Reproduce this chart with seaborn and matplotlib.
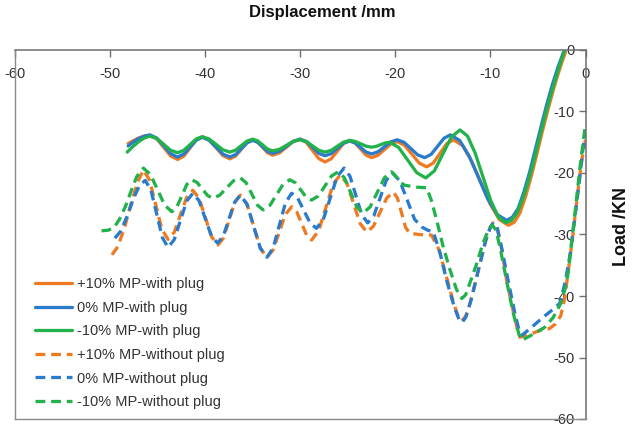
import matplotlib
matplotlib.use("Agg")
import matplotlib.pyplot as plt
import seaborn as sns
import pandas as pd

# ---- load-displacement curves (displacement in mm, load in kN) ----
series_names = [
    "+10% MP-with plug",
    "0% MP-with plug",
    "-10% MP-with plug",
    "+10% MP-without plug",
    "0% MP-without plug",
    "-10% MP-without plug",
]

plus10_plug_x = [-48.1, -47.5, -47.0, -46.4, -45.8, -45.08, -44.35, -43.63, -42.9, -42.25, -41.6, -40.95,
                 -40.3, -39.58, -38.85, -38.13, -37.4, -36.8, -36.2, -35.6, -35.0, -34.48, -33.95, -33.43,
                 -32.9, -32.18, -31.45, -30.73, -30.0, -29.35, -28.7, -28.05, -27.4, -26.75, -26.1, -25.45,
                 -24.8, -24.23, -23.65, -23.08, -22.5, -21.83, -21.15, -20.48, -19.8, -19.03, -18.25, -17.48,
                 -16.7, -16.0, -15.3, -14.6, -13.9, -12.93, -11.97, -11.0, -10.03, -9.07, -8.1, -7.5, -6.9,
                 -6.3, -5.7, -5.1, -4.5, -3.9, -3.3, -2.7, -2.1]
plus10_plug_y = [-15.2, -14.7, -14.3, -14.0, -13.9, -14.47, -15.85, -17.23, -17.8, -17.26, -15.95, -14.64,
                 -14.1, -14.63, -15.9, -17.17, -17.7, -17.25, -16.15, -15.05, -14.6, -14.97, -15.85, -16.73,
                 -17.1, -16.72, -15.8, -14.88, -14.5, -15.04, -16.35, -17.66, -18.2, -17.69, -16.45, -15.21,
                 -14.7, -15.11, -16.1, -17.09, -17.5, -17.12, -16.2, -15.28, -14.9, -15.5, -16.95, -18.4,
                 -19.0, -18.36, -16.8, -15.24, -14.6, -15.53, -18.08, -21.55, -25.03, -27.57, -28.5, -28.0,
                 -26.5, -23.8, -20.5, -16.8, -13.0, -9.4, -6.0, -3.0, -0.3]

zero_plug_x = [-48.1, -47.5, -47.0, -46.4, -45.8, -45.08, -44.35, -43.63, -42.9, -42.25, -41.6, -40.95,
               -40.3, -39.58, -38.85, -38.13, -37.4, -36.8, -36.2, -35.6, -35.0, -34.48, -33.95, -33.43,
               -32.9, -32.18, -31.45, -30.73, -30.0, -29.35, -28.7, -28.05, -27.4, -26.75, -26.1, -25.45,
               -24.8, -24.23, -23.65, -23.08, -22.5, -21.83, -21.15, -20.48, -19.8, -19.08, -18.35, -17.63,
               -16.9, -16.23, -15.55, -14.88, -14.2, -13.22, -12.23, -11.25, -10.27, -9.28, -8.3, -7.7, -7.1,
               -6.5, -5.9, -5.3, -4.7, -4.1, -3.5, -2.9, -2.3]
zero_plug_y = [-15.6, -14.9, -14.4, -14.0, -13.8, -14.33, -15.6, -16.87, -17.4, -16.93, -15.8, -14.67,
               -14.2, -14.67, -15.8, -16.93, -17.4, -17.01, -16.05, -15.09, -14.7, -15.01, -15.75, -16.49,
               -16.8, -16.46, -15.65, -14.84, -14.5, -14.89, -15.85, -16.81, -17.2, -16.85, -16.0, -15.15,
               -14.8, -15.11, -15.85, -16.59, -16.9, -16.56, -15.75, -14.94, -14.6, -15.02, -16.05, -17.08,
               -17.5, -16.96, -15.65, -14.34, -13.8, -14.73, -17.28, -20.75, -24.23, -26.77, -27.7, -27.2,
               -25.8, -23.2, -20.0, -16.3, -12.6, -9.0, -5.7, -2.8, -0.3]

minus10_plug_x = [-48.2, -47.6, -47.0, -46.4, -45.8, -45.08, -44.35, -43.63, -42.9, -42.25, -41.6, -40.95,
                  -40.3, -39.58, -38.85, -38.13, -37.4, -36.8, -36.2, -35.6, -35.0, -34.48, -33.95, -33.43,
                  -32.9, -32.18, -31.45, -30.73, -30.0, -29.35, -28.7, -28.05, -27.4, -26.75, -26.1, -25.45,
                  -24.8, -24.23, -23.65, -23.08, -22.5, -22.03, -21.55, -21.08, -20.6, -19.65, -18.7, -17.75,
                  -16.8, -15.9, -15.0, -14.1, -13.2, -12.4, -11.6, -10.8, -10.0, -9.2, -8.4, -7.8, -7.2,
                  -6.6, -6.0, -5.4, -4.8, -4.2, -3.6, -2.9, -2.2]
minus10_plug_y = [-16.6, -15.7, -14.9, -14.3, -14.0, -14.39, -15.35, -16.31, -16.7, -16.32, -15.4, -14.48,
                  -14.1, -14.47, -15.35, -16.23, -16.6, -16.29, -15.55, -14.81, -14.5, -14.78, -15.45, -16.12,
                  -16.4, -16.14, -15.5, -14.86, -14.6, -14.89, -15.6, -16.31, -16.6, -16.32, -15.65, -14.98,
                  -14.7, -14.86, -15.25, -15.64, -15.8, -15.68, -15.4, -15.12, -15.0, -15.85, -17.9, -19.95,
                  -20.8, -19.66, -16.9, -14.14, -13.0, -14.01, -16.78, -20.55, -24.33, -27.09, -28.1, -27.7,
                  -26.5, -24.2, -21.3, -17.8, -14.0, -10.4, -7.0, -3.4, 0.0]

plus10_noplug_x = [-49.8, -49.2, -48.5, -47.8, -47.1, -46.5, -45.85, -45.2, -44.55, -43.9, -43.25, -42.6,
                   -41.95, -41.3, -40.64, -39.98, -39.31, -38.65, -38.06, -37.48, -36.89, -36.3, -35.6, -34.9,
                   -34.2, -33.5, -32.85, -32.2, -31.55, -30.9, -30.38, -29.85, -29.33, -28.8, -28.05, -27.3,
                   -26.55, -25.8, -25.1, -24.4, -23.7, -23.0, -22.3, -21.6, -20.9, -20.2, -19.78, -19.35,
                   -18.93, -18.5, -17.5, -16.2, -15.4, -14.6, -13.8, -13.4, -13.0, -12.6, -12.2, -11.3, -10.5,
                   -10.0, -9.7, -9.3, -8.8, -8.3, -7.6, -7.1, -6.9, -5.8, -4.8, -3.8, -3.2, -2.6, -2.2, -1.8,
                   -1.3, -0.8, -0.4, 0.0]
plus10_noplug_y = [-33.3, -32.0, -29.0, -25.0, -21.5, -19.5, -21.15, -25.15, -29.15, -30.8, -29.63, -26.8,
                   -23.97, -22.8, -24.1, -27.25, -30.4, -31.7, -30.52, -27.65, -24.78, -23.6, -25.07, -28.65,
                   -32.23, -33.7, -32.5, -29.6, -26.7, -25.5, -26.29, -28.2, -30.11, -30.9, -29.35, -25.6,
                   -21.85, -20.3, -21.66, -24.95, -28.24, -29.6, -28.65, -26.35, -24.05, -23.1, -24.08, -26.45,
                   -28.82, -29.8, -30.0, -30.1, -32.5, -37.0, -41.5, -43.3, -44.0, -43.3, -41.5, -36.0, -31.0,
                   -28.8, -28.1, -28.8, -32.5, -37.4, -42.5, -45.8, -46.7, -46.2, -45.6, -45.3, -44.6, -43.2,
                   -40.5, -35.8, -29.8, -23.0, -18.0, -14.6]

zero_noplug_x = [-49.5, -48.9, -48.2, -47.5, -46.9, -46.3, -45.7, -45.1, -44.5, -43.9, -43.25, -42.6,
                 -41.95, -41.3, -40.65, -40.0, -39.35, -38.7, -38.1, -37.5, -36.9, -36.3, -35.6, -34.9,
                 -34.2, -33.5, -32.85, -32.2, -31.55, -30.9, -30.25, -29.6, -28.95, -28.3, -27.58, -26.85,
                 -26.13, -25.4, -24.78, -24.15, -23.53, -22.9, -22.25, -21.6, -20.95, -20.3, -19.53, -18.75,
                 -17.98, -17.2, -16.6, -16.0, -15.3, -14.6, -13.8, -13.3, -13.0, -12.6, -12.0, -11.3, -10.5,
                 -10.0, -9.7, -9.3, -8.8, -8.2, -7.5, -7.0, -6.7, -5.6, -4.5, -3.6, -2.7, -2.1, -1.6, -1.1,
                 -0.7, -0.3, 0.0]
zero_noplug_y = [-30.6, -29.5, -27.0, -24.0, -22.0, -21.2, -22.79, -26.65, -30.51, -32.1, -30.82, -27.7,
                 -24.58, -23.3, -24.48, -27.35, -30.22, -31.4, -30.26, -27.5, -24.74, -23.6, -25.07, -28.65,
                 -32.23, -33.7, -32.18, -28.5, -24.82, -23.3, -24.13, -26.15, -28.17, -29.0, -27.57, -24.1,
                 -20.63, -19.2, -20.5, -23.65, -26.8, -28.1, -26.92, -24.05, -21.18, -20.0, -21.28, -24.4,
                 -27.52, -28.8, -29.3, -29.6, -33.0, -37.5, -41.8, -43.8, -44.3, -43.5, -40.5, -36.0, -31.0,
                 -28.8, -28.1, -28.8, -32.3, -37.0, -42.3, -45.5, -46.4, -45.0, -43.5, -42.4, -41.2, -37.5,
                 -33.0, -27.0, -22.0, -16.5, -13.0]

minus10_noplug_x = [-50.9, -50.2, -49.6, -49.0, -48.4, -47.8, -47.2, -46.5, -45.75, -45.0, -44.25, -43.5,
                    -42.98, -42.45, -41.93, -41.4, -40.85, -40.3, -39.75, -39.2, -38.48, -37.75, -37.03, -36.3,
                    -35.7, -35.1, -34.5, -33.9, -33.2, -32.5, -31.8, -31.1, -30.53, -29.95, -29.38, -28.8,
                    -28.1, -27.4, -26.7, -26.0, -25.35, -24.7, -24.05, -23.4, -22.65, -21.9, -21.15, -20.4,
                    -19.9, -19.4, -19.0, -17.8, -16.7, -16.2, -15.6, -15.0, -14.3, -13.6, -13.2, -13.0, -12.6,
                    -12.0, -11.5, -10.8, -10.2, -9.8, -9.4, -8.9, -8.3, -7.6, -7.0, -6.7, -5.5, -4.3, -3.4,
                    -2.6, -2.1, -1.8, -1.4, -1.0, -0.5, 0.0]
minus10_noplug_y = [-29.4, -29.3, -28.9, -27.5, -25.5, -23.0, -20.6, -19.2, -20.24, -22.75, -25.26, -26.3,
                    -25.54, -23.7, -21.86, -21.1, -21.54, -22.6, -23.66, -24.1, -23.62, -22.45, -21.28, -20.8,
                    -21.56, -23.4, -25.24, -26.0, -25.28, -23.55, -21.82, -21.1, -21.58, -22.75, -23.92, -24.4,
                    -23.73, -22.1, -20.47, -19.8, -20.78, -23.15, -25.52, -26.5, -25.52, -23.15, -20.78, -19.8,
                    -20.6, -21.6, -22.0, -22.3, -22.4, -24.5, -28.0, -31.8, -35.5, -38.8, -40.1, -40.4, -39.8,
                    -37.2, -35.0, -31.5, -29.2, -28.5, -29.3, -32.8, -37.5, -42.8, -46.2, -47.2, -46.2, -45.1,
                    -43.5, -41.2, -38.6, -36.0, -30.5, -25.0, -18.0, -12.0]

curves = [
    (plus10_plug_x, plus10_plug_y),
    (zero_plug_x, zero_plug_y),
    (minus10_plug_x, minus10_plug_y),
    (plus10_noplug_x, plus10_noplug_y),
    (zero_noplug_x, zero_noplug_y),
    (minus10_noplug_x, minus10_noplug_y),
]

x_ticks = [-60, -50, -40, -30, -20, -10, 0]
y_ticks = [0, -10, -20, -30, -40, -50, -60]

# long-form table for seaborn
frames = []
for name, (xs, ys) in zip(series_names, curves):
    frames.append(pd.DataFrame({"disp": xs, "load": ys, "series": name}))
df = pd.concat(frames, ignore_index=True)

orange, blue, green = "#EE7B22", "#2A7BCC", "#22B24C"
palette = dict(zip(series_names, [orange, blue, green, orange, blue, green]))
dashes = dict(zip(series_names, ["", "", "", (3.0, 1.8), (3.0, 1.8), (3.0, 1.8)]))

sns.set_style("white")
plt.rcParams["font.family"] = ["Liberation Sans", "DejaVu Sans"]

fig = plt.figure(figsize=(6.35, 4.25), dpi=100)
ax = fig.add_axes([15 / 635, 6 / 425, 570.5 / 635, 369 / 425])

sns.lineplot(data=df, x="disp", y="load", hue="series", style="series",
             palette=palette, dashes=dashes, sort=False, estimator=None,
             linewidth=2.35, solid_joinstyle="round", dash_joinstyle="round", ax=ax)

ax.set_xlim(-60, 0)
ax.set_ylim(-60, 0)
ax.set_xlabel("")
ax.set_ylabel("")

# x axis along the top edge, labels tucked inside the frame
ax.xaxis.tick_top()
ax.set_xticks(x_ticks)
ax.set_xticklabels([str(v) for v in x_ticks])
ax.tick_params(axis="x", direction="in", length=5, width=1, color="#707070",
               labelsize=10.5, labelcolor="#333333", pad=-12.5)
for t in ax.xaxis.get_major_ticks():
    t.label2.set_verticalalignment("top")

# y axis along the right edge, labels inside the frame
ax.yaxis.tick_right()
ax.set_yticks(y_ticks)
ax.set_yticklabels([str(v) for v in y_ticks])
ax.tick_params(axis="y", direction="in", length=5, width=1, color="#707070",
               labelsize=10.5, labelcolor="#333333", pad=-8)
for t in ax.yaxis.get_major_ticks():
    t.label2.set_horizontalalignment("right")

for side in ["left", "bottom"]:
    ax.spines[side].set_color("#8a8a8a")
    ax.spines[side].set_linewidth(1.0)
for side in ["top", "right"]:
    ax.spines[side].set_color("#6e6e6e")
    ax.spines[side].set_linewidth(1.1)

ax.set_ylabel("Load /KN", fontsize=13, fontweight="bold", color="#111111")
ax.yaxis.set_label_position("right")
ax.yaxis.label.set_rotation(90)
ax.yaxis.label.set_rotation_mode("default")
ax.yaxis.label.set_verticalalignment("center")
ax.yaxis.label.set_horizontalalignment("center")
ax.yaxis.set_label_coords((621 - 15) / 570.5, (419 - 226) / 369)

fig.text(322 / 635, 1 - 12 / 425, "Displacement /mm", ha="center", va="center",
         fontsize=12, fontweight="bold", color="#111111")

handles, labels = ax.get_legend_handles_labels()
ax.legend(handles, labels, loc="upper left",
          bbox_to_anchor=(35 / 635, 1 - 277 / 425), bbox_transform=fig.transFigure,
          frameon=False, borderpad=0, borderaxespad=0, handlelength=2.55,
          handletextpad=0.35, labelspacing=0.66, fontsize=10.5,
          labelcolor="#333333")

fig.savefig("out.png", dpi=100)
